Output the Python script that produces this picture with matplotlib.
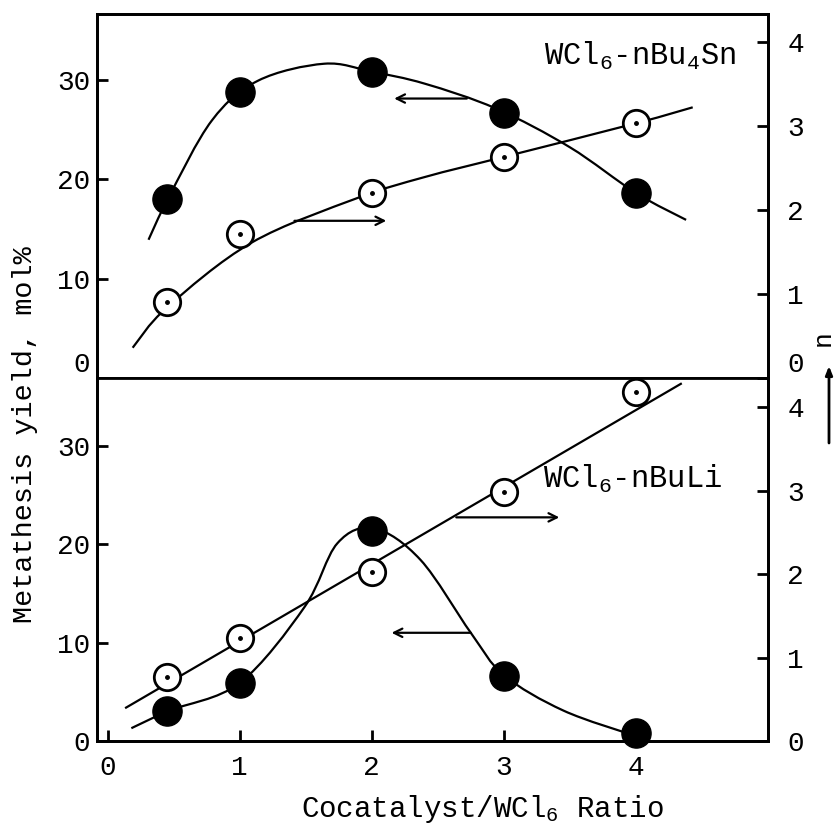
import matplotlib
matplotlib.use("Agg")
import matplotlib.pyplot as plt
from matplotlib.path import Path
from matplotlib.patches import PathPatch

plt.rcParams['font.family'] = ['Liberation Mono', 'DejaVu Sans Mono']
plt.rcParams['mathtext.fontset'] = 'custom'
plt.rcParams['mathtext.rm'] = 'Liberation Mono'
plt.rcParams['mathtext.it'] = 'Liberation Mono'
plt.rcParams['mathtext.default'] = 'rm'

# measured points (cocatalyst / WCl6 ratio)
ratio = [0.45, 1.0, 2.0, 3.0, 4.0]

# WCl6-nBu4Sn
sn_yield = [18.0, 28.8, 30.8, 26.6, 18.6]
sn_n = [0.90, 1.71, 2.20, 2.63, 3.03]

# WCl6-nBuLi
li_yield = [3.0, 5.9, 21.3, 6.6, 0.8]
li_n = [0.77, 1.23, 2.02, 2.98, 4.18]

# hand drawn fitted curves
sn_yield_fit_x = [0.31, 0.46, 0.79, 1.14, 1.64, 2.0, 2.4, 2.94, 3.5, 4.0, 4.38]
sn_yield_fit_y = [13.9, 18.1, 25.9, 29.9, 31.6, 30.8, 29.6, 27.1, 23.2, 18.6, 15.9]
sn_n_fit_x = [0.19, 0.45, 1.09, 1.89, 2.4, 3.0, 4.0, 4.43]
sn_n_fit_y = [0.36, 0.84, 1.61, 2.14, 2.39, 2.63, 3.03, 3.22]
li_yield_fit_x = [0.18, 0.47, 1.0, 1.49, 1.74, 2.02, 2.37, 2.75, 3.0, 3.45, 4.0]
li_yield_fit_y = [1.3, 3.1, 5.9, 13.6, 20.1, 21.6, 18.4, 11.0, 6.7, 3.1, 0.5]
li_n_fit_x = [0.14, 4.34]
li_n_fit_y = [0.40, 4.28]

yield_ticks = [0, 10, 20, 30]
n_ticks = [0, 1, 2, 3, 4]
ratio_ticks = [0, 1, 2, 3, 4]

W, H = 837, 831
FS = 20


def smooth_curve(ax, xs, ys):
    # catmull-rom through the traced points, drawn as cubic beziers
    pts = list(zip(xs, ys))
    if len(pts) == 2:
        ax.plot(xs, ys, color='k', lw=1.6, zorder=2)
        return
    verts = [pts[0]]
    codes = [Path.MOVETO]
    for i in range(len(pts) - 1):
        p0 = pts[i - 1] if i > 0 else pts[i]
        p1 = pts[i]
        p2 = pts[i + 1]
        p3 = pts[i + 2] if i + 2 < len(pts) else pts[i + 1]
        c1 = (p1[0] + (p2[0] - p0[0]) / 6, p1[1] + (p2[1] - p0[1]) / 6)
        c2 = (p2[0] - (p3[0] - p1[0]) / 6, p2[1] - (p3[1] - p1[1]) / 6)
        verts += [c1, c2, p2]
        codes += [Path.CURVE4] * 3
    ax.add_patch(PathPatch(Path(verts, codes), fill=False, lw=1.6,
                           edgecolor='k', zorder=2))


def filled(ax, x, y):
    ax.plot(x, y, 'o', ms=21, color='k', zorder=4, clip_on=False)


def open_dot(ax, x, y):
    ax.plot(x, y, 'o', ms=19, mfc='white', mec='k', mew=2, zorder=4, clip_on=False)
    ax.plot(x, y, 'o', ms=2.5, color='k', zorder=5, clip_on=False)


def arrow(ax, x0, x1, y):
    ax.annotate('', xy=(x1, y), xytext=(x0, y),
                arrowprops=dict(arrowstyle='->,head_length=0.6,head_width=0.3',
                                lw=1.6, color='k', shrinkA=0, shrinkB=0))


fig = plt.figure(figsize=(W / 100, H / 100), dpi=100)
ax_top = fig.add_axes([97 / W, 1 - 378 / H, 671 / W, 364 / H])
ax_bot = fig.add_axes([97 / W, 1 - 741 / H, 671 / W, 363 / H], sharex=ax_top)
ax_top_r = ax_top.twinx()
ax_bot_r = ax_bot.twinx()

ax_top.set_xlim(-0.08, 5.0)
ax_top.set_ylim(0, 36.6)
ax_top_r.set_ylim(0, 4.33)
ax_bot.set_ylim(0, 36.9)
ax_bot_r.set_ylim(0, 4.35)

# top panel
smooth_curve(ax_top, sn_yield_fit_x, sn_yield_fit_y)
smooth_curve(ax_top_r, sn_n_fit_x, sn_n_fit_y)
filled(ax_top, ratio, sn_yield)
open_dot(ax_top_r, ratio, sn_n)
arrow(ax_top, 2.72, 2.17, 28.1)
arrow(ax_top_r, 1.415, 2.11, 1.87)
ax_top.text(4.76, 31.5, 'WCl$_6$-nBu$_4$Sn', ha='right', va='baseline', fontsize=22)

# bottom panel
smooth_curve(ax_bot, li_yield_fit_x, li_yield_fit_y)
smooth_curve(ax_bot_r, li_n_fit_x, li_n_fit_y)
filled(ax_bot, ratio, li_yield)
open_dot(ax_bot_r, ratio, li_n)
arrow(ax_bot, 2.75, 2.15, 11.0)
arrow(ax_bot_r, 2.64, 3.42, 2.68)
ax_bot_r.text(3.30, 3.03, 'WCl$_6$-nBuLi', ha='left', va='baseline', fontsize=22)

for ax in (ax_top, ax_bot, ax_top_r, ax_bot_r):
    for s in ax.spines.values():
        s.set_linewidth(2)
    ax.tick_params(direction='in', length=8, width=2, labelsize=FS)
for ax in (ax_bot, ax_bot_r):
    ax.spines['top'].set_visible(False)

ax_top.tick_params(axis='x', bottom=False, labelbottom=False)
ax_bot.set_xticks(ratio_ticks)
ax_bot.tick_params(axis='x', pad=10)

ax_top.set_yticks(yield_ticks)
ax_bot.set_yticks(yield_ticks)
ax_top_r.set_yticks(n_ticks)
ax_bot_r.set_yticks(n_ticks)
for ax in (ax_top, ax_bot):
    ax.tick_params(axis='y', pad=5)
for ax in (ax_top_r, ax_bot_r):
    ax.tick_params(axis='y', pad=14)

# the zero labels of the top panel sit just above the divider
ax_top.get_yticklabels()[0].set_va('bottom')
ax_top_r.get_yticklabels()[0].set_va('bottom')

fig.text(25 / W, 1 - 435 / H, 'Metathesis yield, mol%', rotation=90,
         ha='center', va='center', fontsize=20.5)
fig.text(483 / W, 1 - 817 / H, 'Cocatalyst/WCl$_6$ Ratio', ha='center',
         va='baseline', fontsize=21)
fig.text(823 / W, 1 - 338 / H, 'n', rotation=90, ha='center', va='center',
         fontsize=19)
ax_bot.annotate('', xy=(829 / W, 1 - 366 / H), xytext=(829 / W, 1 - 443 / H),
                xycoords='figure fraction', textcoords='figure fraction',
                arrowprops=dict(arrowstyle='-|>,head_length=0.5,head_width=0.2',
                                lw=2, color='k', shrinkA=0, shrinkB=0),
                annotation_clip=False)

fig.savefig('out.png', dpi=100)
